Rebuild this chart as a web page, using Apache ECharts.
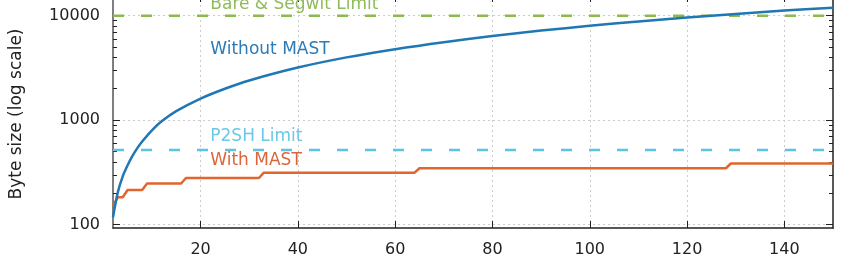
<!DOCTYPE html>
<html><head><meta charset="utf-8">
<script src="https://cdn.jsdelivr.net/npm/echarts@6/dist/echarts.min.js"></script>
<style>html,body{margin:0;padding:0;background:#fff}#c{width:864px;height:262px}</style>
</head><body><div id="c"></div><script>
// ---- data ----
const xRange = [2, 150];
const yRange = [93, 14130];
const xTicks = [20, 40, 60, 80, 100, 120, 140];
const yMajorTicks = [100, 1000, 10000];
const yMinorTicks = [200, 300, 400, 500, 600, 700, 800, 900, 2000, 3000, 4000, 5000, 6000, 7000, 8000, 9000];

const withoutMastX = [2, 3, 4, 5, 6, 7, 8, 10, 12, 15, 20, 25, 30, 40, 50, 60, 70, 80, 90, 100, 110, 120, 130, 140, 150];
const withoutMastY = [118, 205, 290, 370, 455, 540, 625, 800, 975, 1220, 1610, 2000, 2400, 3190, 3990, 4780, 5580, 6390, 7200, 8000, 8800, 9600, 10400, 11200, 11900];

const withMastX = [2, 3, 4, 5, 8, 9, 16, 17, 32, 33, 64, 65, 128, 129, 150];
const withMastY = [152, 183, 183, 215, 215, 248, 248, 280, 280, 315, 315, 347, 347, 385, 385];

const segwitLimit = 10000;
const p2shLimit = 520;

const names = { segwit: 'Bare & Segwit Limit', without: 'Without MAST', p2sh: 'P2SH Limit', withM: 'With MAST' };

// ---- styles ----
const FONT = 'DejaVu Sans';
const C_BLUE = '#1f77b4', C_ORANGE = '#e0652e', C_GREEN = '#8dba4c', C_CYAN = '#5cc3e0';
const T_BLUE = '#2b7bb9', T_ORANGE = '#d9663a', T_GREEN = '#8fbb5a', T_CYAN = '#6cc8e6';
const AX = '#222';

const pairs = (xs, ys) => xs.map((x, i) => [x, ys[i]]);
function annot(coord, text, color) {
  return {
    symbol: 'circle', symbolSize: 0, silent: true, animation: false,
    data: [{ coord: coord }],
    label: { show: true, position: 'right', distance: 0, formatter: text, color: color, fontSize: 17, fontFamily: FONT }
  };
}

const chart = echarts.init(document.getElementById('c'), null, { renderer: 'canvas' });
const yBase = { type: 'log', logBase: 10, min: yRange[0], max: yRange[1], gridIndex: 0 };

chart.setOption({
  animation: false,
  backgroundColor: '#fff',
  grid: { left: 113, right: 31, top: 0, bottom: 34, containLabel: false },
  xAxis: [
    {
      type: 'value', position: 'bottom', min: xRange[0], max: xRange[1],
      axisLine: { show: true, lineStyle: { color: AX, width: 1.5 } },
      axisTick: { show: true, inside: true, length: 7, customValues: xTicks, lineStyle: { color: AX, width: 1 } },
      axisLabel: { show: true, customValues: xTicks, color: AX, fontSize: 16, fontFamily: FONT, margin: 14 },
      splitLine: { show: true, lineStyle: { color: '#cccccc', width: 1, type: [2, 3] } }
    },
    {
      type: 'value', position: 'top', min: xRange[0], max: xRange[1],
      axisLine: { show: false },
      axisTick: { show: true, inside: true, length: 2, customValues: xTicks, lineStyle: { color: AX, width: 1 } },
      axisLabel: { show: false }, splitLine: { show: false }
    }
  ],
  yAxis: [
    Object.assign({}, yBase, {
      position: 'left',
      name: 'Byte size (log scale)', nameLocation: 'middle', nameRotate: 90, nameGap: 88,
      nameTextStyle: { color: AX, fontSize: 17, fontFamily: FONT },
      axisLine: { show: true, lineStyle: { color: '#555', width: 1.5 } },
      axisTick: { show: true, inside: true, length: 7, customValues: yMajorTicks, lineStyle: { color: AX, width: 1 } },
      axisLabel: { show: true, customValues: yMajorTicks, color: AX, fontSize: 16, fontFamily: FONT, margin: 13,
        formatter: v => String(Math.round(v)) },
      splitLine: { show: true, lineStyle: { color: '#cccccc', width: 1, type: [2, 3] } },
      minorTick: { show: false }
    }),
    Object.assign({}, yBase, {
      position: 'left',
      axisLine: { show: false },
      axisTick: { show: true, inside: true, length: 4, customValues: yMinorTicks, lineStyle: { color: AX, width: 1 } },
      axisLabel: { show: false }, splitLine: { show: false }
    }),
    Object.assign({}, yBase, {
      position: 'right',
      axisLine: { show: true, lineStyle: { color: AX, width: 1.5 } },
      axisTick: { show: true, inside: true, length: 7, customValues: yMajorTicks, lineStyle: { color: AX, width: 1 } },
      axisLabel: { show: false }, splitLine: { show: false }
    }),
    Object.assign({}, yBase, {
      position: 'right',
      axisLine: { show: false },
      axisTick: { show: true, inside: true, length: 4, customValues: yMinorTicks, lineStyle: { color: AX, width: 1 } },
      axisLabel: { show: false }, splitLine: { show: false }
    })
  ],
  series: [
    {
      type: 'line', name: names.segwit, xAxisIndex: 0, yAxisIndex: 0, symbol: 'none', silent: true,
      data: [[xRange[0], segwitLimit], [xRange[1], segwitLimit]],
      lineStyle: { color: C_GREEN, width: 2.5, type: [11, 17] },
      markPoint: annot([22, 12900], names.segwit, T_GREEN)
    },
    {
      type: 'line', name: names.p2sh, xAxisIndex: 0, yAxisIndex: 0, symbol: 'none', silent: true,
      data: [[xRange[0], p2shLimit], [xRange[1], p2shLimit]],
      lineStyle: { color: C_CYAN, width: 2.5, type: [11, 17] },
      markPoint: annot([22, 702], names.p2sh, T_CYAN)
    },
    {
      type: 'line', name: names.withM, xAxisIndex: 0, yAxisIndex: 0, symbol: 'none', silent: true,
      data: pairs(withMastX, withMastY),
      lineStyle: { color: C_ORANGE, width: 2.5 },
      markPoint: annot([22, 409], names.withM, T_ORANGE)
    },
    {
      type: 'line', name: names.without, xAxisIndex: 0, yAxisIndex: 0, symbol: 'none', silent: true,
      data: pairs(withoutMastX, withoutMastY), smooth: 0.3,
      lineStyle: { color: C_BLUE, width: 2.5 },
      markPoint: annot([22, 4700], names.without, T_BLUE)
    }
  ]
});
</script></body></html>
